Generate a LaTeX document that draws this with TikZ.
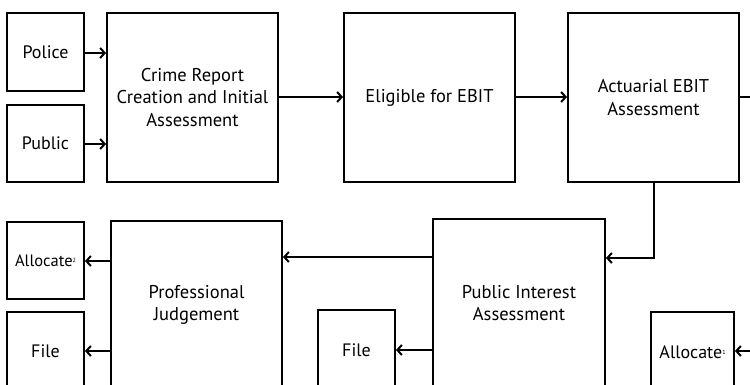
\documentclass[tikz,border=0pt]{standalone}
\usepackage{fontspec}
\setmainfont{PT Sans}
\usetikzlibrary{arrows.meta}
\tikzset{
  box/.style={draw, line width=2pt, rectangle, inner sep=0pt, align=center, font=\fontsize{18.5}{22.5}\selectfont},
  smallbox/.style={box, font=\fontsize{18}{22}\selectfont},
  conn/.style={line width=2pt, -{Straight Barb[length=4.5pt,width=10pt,line width=2pt]}},
  plain/.style={line width=2pt}
}
\newcommand{\supmark}[1]{\raisebox{0.2em}{\fontsize{6}{6}\selectfont #1}}
\begin{document}
\begin{tikzpicture}[x=1pt,y=-1pt]
\useasboundingbox (0,0) rectangle (750,384);
\clip (0,0) rectangle (750,384);
% top row
\node[smallbox, minimum width=77, minimum height=78] (police) at (45.5,52) {Police};
\node[smallbox, minimum width=77, minimum height=77] (public) at (45.5,143.5) {Public};
\node[box, minimum width=171, minimum height=169] (crime) at (192.5,97.5) {Crime Report\\Creation and Initial\\Assessment};
\node[box, minimum width=171, minimum height=169] (elig) at (429.5,97.5) {Eligible for EBIT};
\node[box, minimum width=171, minimum height=169] (act) at (653.5,97.5) {Actuarial EBIT\\Assessment};
% bottom row
\node[box, font=\fontsize{16.5}{20}\selectfont, minimum width=77, minimum height=77] (alloc2) at (45.5,260.5) {Allocate\supmark{2}};
\node[smallbox, minimum width=77, minimum height=78] (fileL) at (45.5,351) {File};
\node[box, minimum width=171, minimum height=168] (pj) at (196.5,305) {Professional\\Judgement};
\node[smallbox, minimum width=77, minimum height=80] (fileM) at (356.5,350) {File};
\node[box, minimum width=172, minimum height=168] (pia) at (519,303) {Public Interest\\Assessment};
\node[smallbox, minimum width=83, minimum height=80] (alloc1) at (692.5,352) {Allocate\supmark{1}};
\coordinate (offR) at (760,97);
\coordinate (inR) at (760,351);
% connectors
\draw[conn] (police.east |- 0,53) -- (crime.west |- 0,53);
\draw[conn] (public.east |- 0,144) -- (crime.west |- 0,144);
\draw[conn] (crime.east |- 0,97) -- (elig.west |- 0,97);
\draw[conn] (elig.east |- 0,97) -- (act.west |- 0,97);
\draw[plain] (act.east |- 0,97) -- (offR);
\draw[conn] (act.south -| 654,0) -- (654,258) -- (pia.east |- 0,258);
\draw[conn] (pia.west |- 0,257) -- (pj.east |- 0,257);
\draw[conn] (pj.west |- 0,261) -- (alloc2.east |- 0,261);
\draw[conn] (pj.west |- 0,351) -- (fileL.east |- 0,351);
\draw[conn] (pia.west |- 0,350) -- (fileM.east |- 0,350);
\draw[conn] (inR) -- (alloc1.east |- inR);
\end{tikzpicture}
\end{document}
